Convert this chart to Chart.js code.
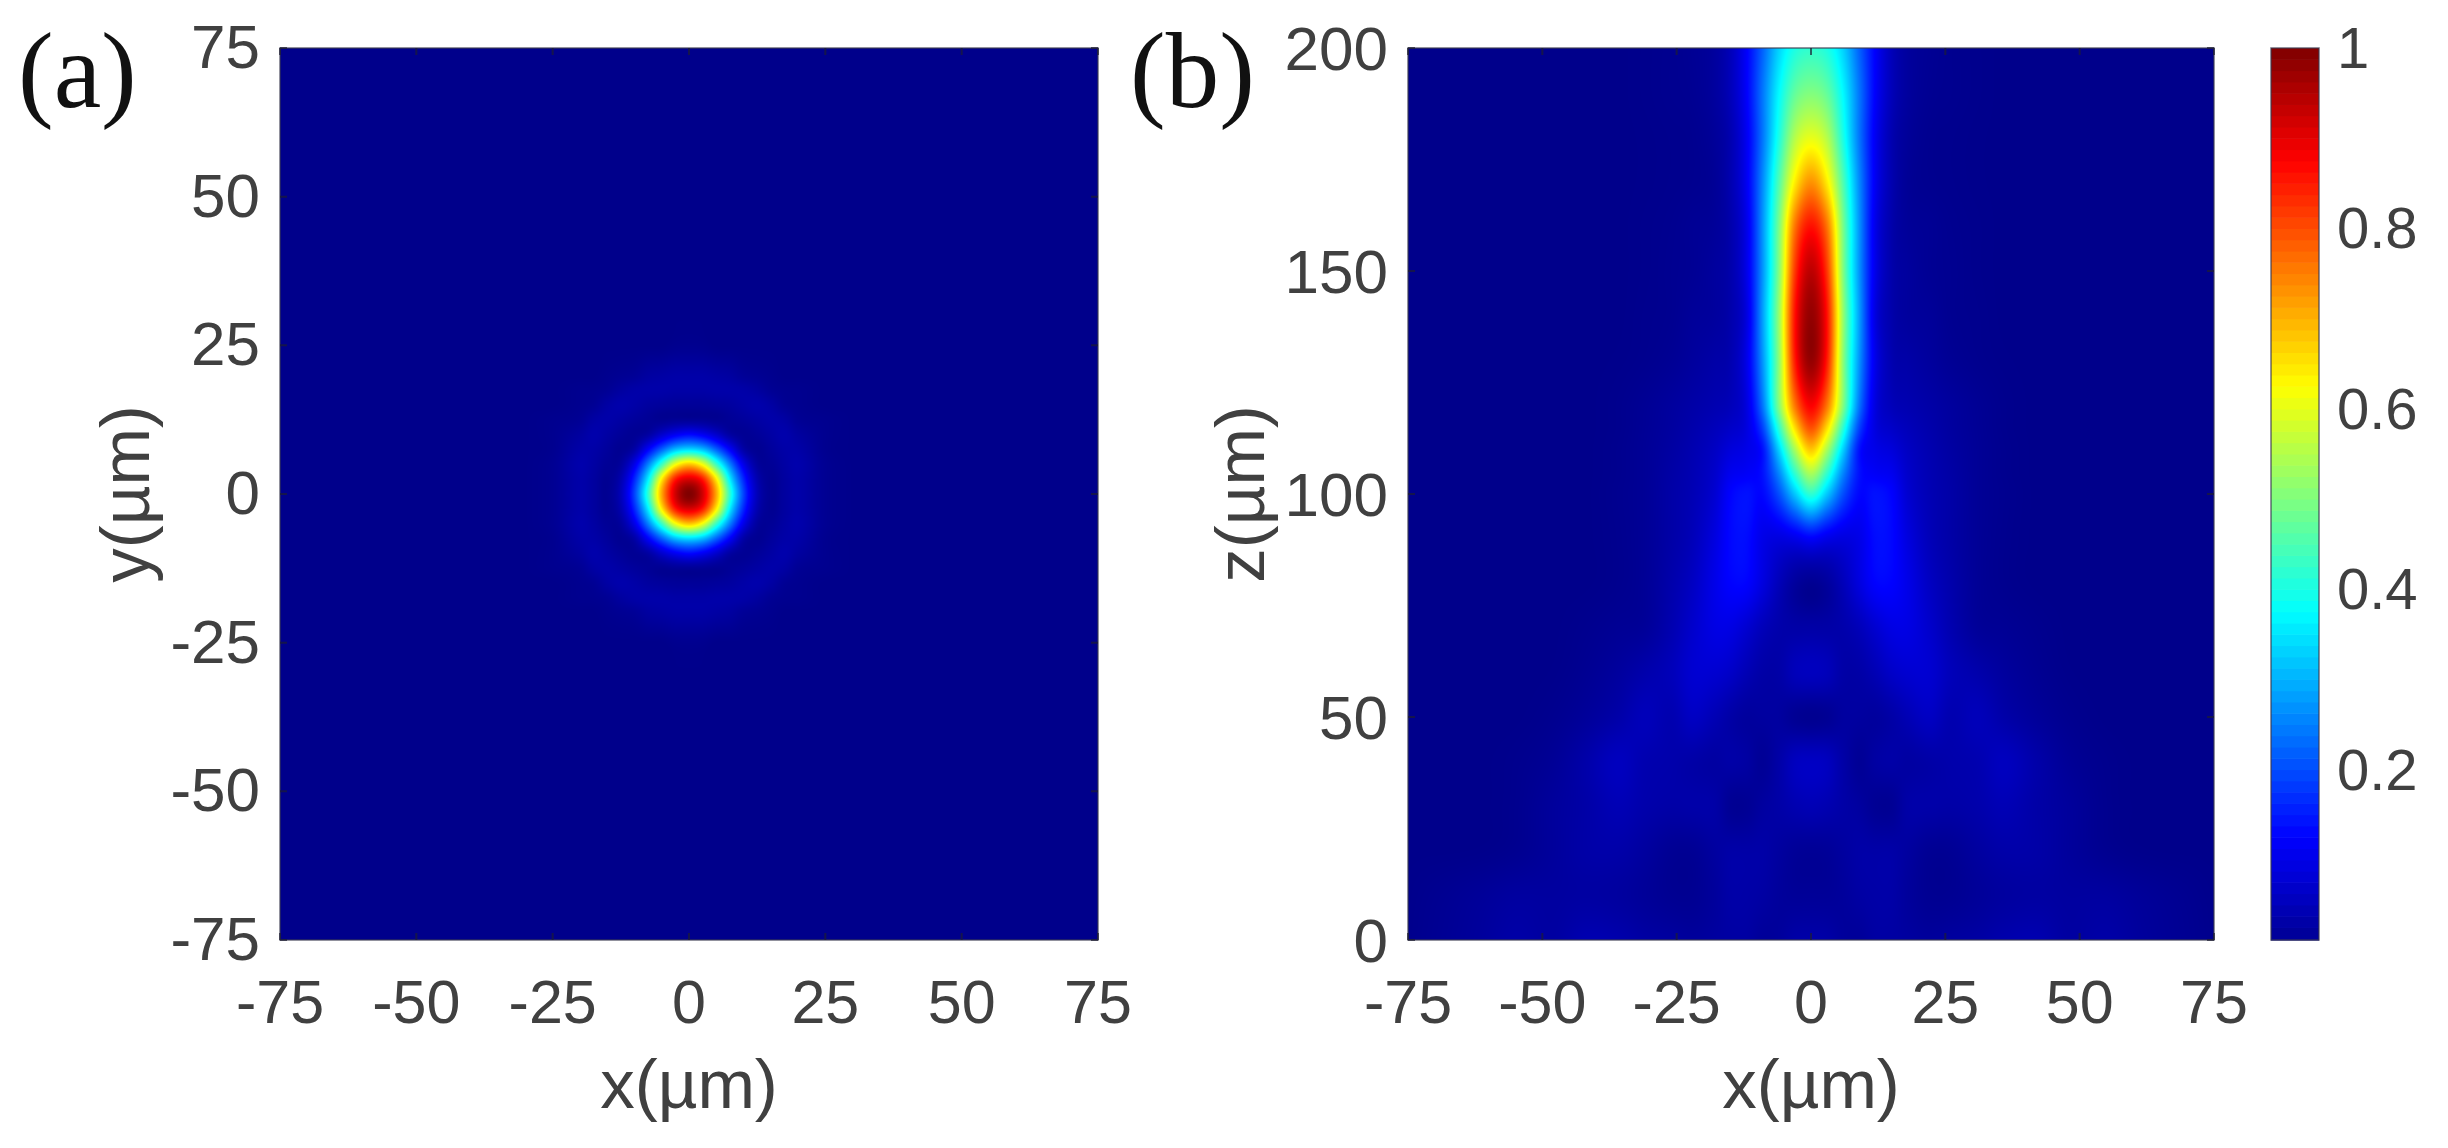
<!DOCTYPE html>
<html><head><meta charset="utf-8">
<script src="https://cdn.jsdelivr.net/npm/chart.js@4"></script>
<style>
html,body{margin:0;padding:0;background:#fff;width:2448px;height:1148px;overflow:hidden}
canvas{position:absolute;top:0;filter:blur(0.7px)}
</style></head><body>
<canvas id="a" width="1200" height="1148" style="left:0"></canvas>
<canvas id="b" width="1130" height="1148" style="left:1130px"></canvas>
<canvas id="c" width="188" height="1148" style="left:2260px"></canvas>
<script>
const xTicksA=[-75,-50,-25,0,25,50,75];
const yTicksA=[-75,-50,-25,0,25,50,75];
const xTicksB=[-75,-50,-25,0,25,50,75];
const zTicksB=[0,50,100,150,200];
const cbarTicks=[0.2,0.4,0.6,0.8,1];
const cbarLevels=[.011,.025,.0375,.05,.0625,.075,.0875,.1,.1125,.125,.1375,.15,.1625,.175,.1875,.2,.2125,.225,.2375,.25,.2625,.275,.2875,.3,.3125,.325,.3375,.35,.3625,.375,.3875,.4,.4125,.425,.4375,.45,.4625,.475,.4875,.5,.5125,.525,.5375,.55,.5625,.575,.5875,.6,.6125,.625,.6375,.65,.6625,.675,.6875,.7,.7125,.725,.7375,.75,.7625,.775,.7875,.8,.8125,.825,.8375,.85,.8625,.875,.8875,.9,.9125,.925,.9375,.95,.9625,.975,.9875,1];

const xGridA=[-30,-25,-20,-17.5,-15,-12.5,-10,-7.5,-5,-2.5,0,2.5,5,7.5,10,12.5,15,17.5,20,25,30];
const yGridA=[30,25,20,17.5,15,12.5,10,7.5,5,2.5,0,-2.5,-5,-7.5,-10,-12.5,-15,-17.5,-20,-25,-30];
const intensityA=[
[0,0,0,0,0,0,0,0,0,0,0,0,0,0,0,0,0,0,0,0,0],
[0,0,0,0,0,0,0,0,0,.004,.005,.004,0,0,0,0,0,0,0,0,0],
[0,0,0,0,.004,.008,.012,.022,.026,.03,.03,.03,.026,.022,.012,.008,.004,0,0,0,0],
[0,0,.004,.005,.01,.022,.03,.032,.032,.03,.03,.03,.032,.032,.03,.022,.01,.005,.004,0,0],
[0,0,.005,.01,.026,.035,.03,.022,.018,.015,.015,.015,.018,.022,.03,.035,.026,.01,.005,0,0],
[0,.004,.01,.026,.032,.026,.018,.012,.008,.012,.012,.012,.008,.012,.018,.026,.032,.026,.01,.004,0],
[0,.005,.022,.035,.026,.015,.01,.025,.07,.11,.13,.11,.07,.025,.01,.015,.026,.035,.022,.005,0],
[0,.005,.03,.03,.018,.008,.03,.12,.22,.31,.34,.31,.22,.12,.03,.008,.018,.03,.03,.005,0],
[0,.008,.035,.026,.012,.02,.10,.25,.43,.61,.68,.61,.43,.25,.10,.02,.012,.026,.035,.008,0],
[0,.008,.032,.022,.008,.04,.16,.36,.64,.85,.91,.85,.64,.36,.16,.04,.008,.022,.032,.008,0],
[0,.008,.032,.022,.008,.05,.19,.42,.71,.92,1,.92,.71,.42,.19,.05,.008,.022,.032,.008,0],
[0,.008,.032,.022,.008,.04,.16,.36,.64,.85,.91,.85,.64,.36,.16,.04,.008,.022,.032,.008,0],
[0,.008,.035,.026,.012,.02,.10,.25,.43,.61,.68,.61,.43,.25,.10,.02,.012,.026,.035,.008,0],
[0,.005,.03,.03,.018,.008,.03,.12,.22,.31,.34,.31,.22,.12,.03,.008,.018,.03,.03,.005,0],
[0,.005,.022,.035,.026,.015,.01,.025,.07,.11,.13,.11,.07,.025,.01,.015,.026,.035,.022,.005,0],
[0,.004,.01,.026,.032,.026,.018,.012,.008,.012,.012,.012,.008,.012,.018,.026,.032,.026,.01,.004,0],
[0,0,.005,.01,.026,.035,.03,.022,.018,.015,.015,.015,.018,.022,.03,.035,.026,.01,.005,0,0],
[0,0,.004,.005,.01,.022,.03,.032,.032,.03,.03,.03,.032,.032,.03,.022,.01,.005,.004,0,0],
[0,0,0,0,.004,.008,.012,.022,.026,.03,.03,.03,.026,.022,.012,.008,.004,0,0,0,0],
[0,0,0,0,0,0,0,0,0,.004,.005,.004,0,0,0,0,0,0,0,0,0],
[0,0,0,0,0,0,0,0,0,0,0,0,0,0,0,0,0,0,0,0,0]
];

const xGridB=[-75,-62,-55,-48,-42,-36,-31,-26,-22,-18,-15,-12,-9,-6,-3,0,3,6,9,12,15,18,22,26,31,36,42,48,55,62,75];
const zGridB=[200,190,180,170,160,150,140,130,120,115,110,105,100,90,80,70,60,50,40,30,20,10,0];
const intensityB=[
[0,0,0,0,0,0,.002,.005,.01,.02,.05,.12,.22,.33,.40,.42,.40,.33,.22,.12,.05,.02,.01,.005,.002,0,0,0,0,0,0],
[0,0,0,0,0,0,.002,.005,.008,.02,.05,.12,.24,.37,.47,.50,.47,.37,.24,.12,.05,.02,.008,.005,.002,0,0,0,0,0,0],
[0,0,0,0,0,0,.001,.003,.005,.015,.04,.11,.24,.40,.55,.60,.55,.40,.24,.11,.04,.015,.005,.003,.001,0,0,0,0,0,0],
[0,0,0,0,0,0,.001,.003,.005,.012,.04,.11,.26,.45,.64,.73,.64,.45,.26,.11,.04,.012,.005,.003,.001,0,0,0,0,0,0],
[0,0,0,0,0,0,.002,.005,.01,.015,.035,.10,.27,.49,.76,.86,.76,.49,.27,.10,.035,.015,.01,.005,.002,0,0,0,0,0,0],
[0,0,0,0,0,0,.002,.006,.01,.02,.035,.10,.27,.50,.82,.94,.82,.50,.27,.10,.035,.02,.01,.006,.002,0,0,0,0,0,0],
[0,0,0,0,0,0,.003,.006,.015,.02,.035,.09,.28,.52,.86,.98,.86,.52,.28,.09,.035,.02,.015,.006,.003,0,0,0,0,0,0],
[0,0,0,0,0,.001,.004,.01,.02,.03,.04,.10,.27,.51,.85,.98,.85,.51,.27,.10,.04,.03,.02,.01,.004,.001,0,0,0,0,0],
[0,0,0,0,0,.003,.01,.02,.03,.04,.05,.09,.24,.50,.76,.88,.76,.50,.24,.09,.05,.04,.03,.02,.01,.003,0,0,0,0,0],
[0,0,0,0,0,.003,.011,.022,.035,.05,.065,.09,.19,.42,.66,.80,.66,.42,.19,.09,.065,.05,.035,.022,.011,.003,0,0,0,0,0],
[0,0,0,0,0,.004,.012,.025,.04,.06,.085,.10,.14,.33,.54,.68,.54,.33,.14,.10,.085,.06,.04,.025,.012,.004,0,0,0,0,0],
[0,0,0,0,0,.004,.012,.028,.043,.068,.105,.115,.14,.26,.43,.55,.43,.26,.14,.115,.105,.068,.043,.028,.012,.004,0,0,0,0,0],
[0,0,0,0,0,.005,.012,.03,.045,.075,.125,.14,.13,.20,.32,.42,.32,.20,.13,.14,.125,.075,.045,.03,.012,.005,0,0,0,0,0],
[0,0,0,0,0,.004,.012,.03,.05,.09,.13,.135,.10,.09,.10,.12,.10,.09,.10,.135,.13,.09,.05,.03,.012,.004,0,0,0,0,0],
[0,0,0,0,0,.004,.012,.035,.06,.10,.125,.125,.09,.05,.02,.008,.02,.05,.09,.125,.125,.10,.06,.035,.012,.004,0,0,0,0,0],
[0,0,0,0,.004,.01,.015,.04,.07,.095,.095,.075,.05,.035,.03,.03,.03,.035,.05,.075,.095,.095,.07,.04,.015,.01,.004,0,0,0,0],
[0,0,0,.001,.008,.02,.035,.05,.075,.075,.065,.045,.03,.03,.05,.055,.05,.03,.03,.045,.065,.075,.075,.05,.035,.02,.008,.001,0,0,0],
[0,0,0,.005,.016,.032,.05,.04,.06,.045,.03,.02,.022,.022,.01,.006,.01,.022,.022,.02,.03,.045,.06,.04,.05,.032,.016,.005,0,0,0],
[0,0,.003,.012,.032,.055,.04,.035,.03,.025,.03,.025,.012,.03,.055,.06,.055,.03,.012,.025,.03,.025,.03,.035,.04,.055,.032,.012,.003,0,0],
[0,0,.004,.018,.03,.045,.035,.03,.032,.03,.01,.01,.022,.03,.04,.045,.04,.03,.022,.01,.01,.03,.032,.03,.035,.045,.03,.018,.004,0,0],
[0,.001,.006,.018,.03,.032,.022,.01,.01,.022,.03,.03,.03,.022,.014,.012,.014,.022,.03,.03,.03,.022,.01,.01,.022,.032,.03,.018,.006,.001,0],
[.001,.014,.022,.022,.025,.022,.015,.008,.008,.018,.03,.03,.026,.018,.014,.014,.014,.018,.026,.03,.03,.018,.008,.008,.015,.022,.025,.022,.022,.014,.001],
[.002,.018,.03,.024,.04,.036,.026,.022,.018,.022,.025,.025,.015,.018,.03,.032,.03,.018,.015,.025,.025,.022,.018,.022,.026,.036,.04,.024,.03,.018,.002]
];

const FONT="'Liberation Sans', Arial, sans-serif";
const INK='#404040';

function jet(v){
  v=Math.max(0,Math.min(1,v));
  let r=0,g=0,b=0;
  if(v<.125){b=.545+.455*v/.125;}
  else if(v<.375){g=(v-.125)/.25;b=1;}
  else if(v<.625){r=(v-.375)/.25;g=1;b=1-r;}
  else if(v<.875){r=1;g=1-(v-.625)/.25;}
  else{r=1-.5*(v-.875)/.125;}
  return [r*255,g*255,b*255];
}
function locate(g,t){
  if(t<=g[0])return {i:0,u:0};
  const n=g.length-1;
  if(t>=g[n])return {i:n-1,u:1};
  let i=0;while(g[i+1]<t)i++;
  return {i,u:(t-g[i])/(g[i+1]-g[i])};
}
function tangent(g,f,i){
  const n=g.length-1;
  if(i<=0)return (f[1]-f[0])/(g[1]-g[0]);
  if(i>=n)return (f[n]-f[n-1])/(g[n]-g[n-1]);
  return (f[i+1]-f[i-1])/(g[i+1]-g[i-1]);
}
function shade(g,f,p){
  const i=p.i,u=p.u,h=g[i+1]-g[i];
  const u2=u*u,u3=u2*u;
  return (2*u3-3*u2+1)*f[i]+(u3-2*u2+u)*h*tangent(g,f,i)+(-2*u3+3*u2)*f[i+1]+(u3-u2)*h*tangent(g,f,i+1);
}
function frame(chart,xT,yT){
  const c=chart.ctx,a=chart.chartArea,sx=chart.scales.x,sy=chart.scales.y;
  c.save();
  c.strokeStyle='rgba(60,60,80,.75)';c.lineWidth=1.5;
  c.strokeRect(a.left,a.top,a.right-a.left,a.bottom-a.top);
  c.strokeStyle='rgba(30,30,50,.7)';c.lineWidth=2;c.beginPath();
  xT.forEach(v=>{const p=sx.getPixelForValue(v);c.moveTo(p,a.bottom);c.lineTo(p,a.bottom-7);c.moveTo(p,a.top);c.lineTo(p,a.top+7);});
  yT.forEach(v=>{const p=sy.getPixelForValue(v);c.moveTo(a.left,p);c.lineTo(a.left+7,p);c.moveTo(a.right,p);c.lineTo(a.right-7,p);});
  c.stroke();c.restore();
}
function heatPlugin(xs,ys,rows,xT,yT,tag,tagX){
  const yAsc=ys.slice().reverse(), rowsAsc=rows.slice().reverse();
  return {id:'heat'+tag,
    beforeDatasetsDraw(chart){
      const a=chart.chartArea,sx=chart.scales.x,sy=chart.scales.y;
      const L=Math.round(a.left),T=Math.round(a.top),W=Math.round(a.right-a.left),H=Math.round(a.bottom-a.top);
      const off=document.createElement('canvas');off.width=W;off.height=H;
      const oc=off.getContext('2d'),img=oc.createImageData(W,H);
      const ly=[];for(let j=0;j<H;j++)ly.push(locate(yAsc,sy.getValueForPixel(T+j+.5)));
      for(let i=0;i<W;i++){
        const px=locate(xs,sx.getValueForPixel(L+i+.5));
        const col=rowsAsc.map(r=>shade(xs,r,px));
        for(let j=0;j<H;j++){
          const c=jet(shade(yAsc,col,ly[j])),k=(j*W+i)*4;
          img.data[k]=c[0];img.data[k+1]=c[1];img.data[k+2]=c[2];img.data[k+3]=255;
        }
      }
      oc.putImageData(img,0,0);
      chart.ctx.drawImage(off,L,T);
    },
    afterDatasetsDraw(chart){
      frame(chart,xT,yT);
      const c=chart.ctx;c.save();c.fillStyle='#111';c.font="107px 'Liberation Serif', serif";
      c.textBaseline='alphabetic';c.textAlign='left';c.fillText(tag,tagX,107);c.restore();
    }};
}
function cellPoints(xs,ys,rows){
  const pts=[];ys.forEach((y,j)=>xs.forEach((x,i)=>pts.push({x,y,v:rows[j][i]})));return pts;
}
function noPad(s){s.paddingLeft=s.paddingRight=s.paddingTop=s.paddingBottom=0;}
function axis(ticks,min,max,extra){
  return Object.assign({type:'linear',min,max,
    afterBuildTicks(s){s.ticks=ticks.map(value=>({value}));},
    grid:{display:false,drawTicks:false},border:{display:false}},extra);
}
function heatChart(id,xs,ys,rows,xT,yT,ymin,ymax,opt){
  new Chart(document.getElementById(id),{
    type:'scatter',
    data:{datasets:[{label:opt.tag,data:cellPoints(xs,ys,rows),pointRadius:0,pointHoverRadius:0}]},
    plugins:[heatPlugin(xs,ys,rows,xT,yT,opt.tag,opt.tagX)],
    options:{responsive:false,animation:false,events:[],
      layout:{padding:{left:0,top:48,right:opt.right,bottom:0}},
      plugins:{legend:{display:false},tooltip:{enabled:false}},
      scales:{
        x:axis(xT,-75,75,{
          afterFit(s){s.height=208;noPad(s);},
          ticks:{autoSkip:false,maxRotation:0,minRotation:0,padding:30,color:INK,font:{family:FONT,size:61}},
          title:{display:true,text:'x(µm)',color:INK,font:{family:FONT,size:69},padding:{top:0,bottom:18}}}),
        y:axis(yT,ymin,ymax,{
          afterFit(s){s.width=opt.left;noPad(s);},
          ticks:{autoSkip:false,padding:20,labelOffset:opt.labelOffset,color:INK,font:{family:FONT,size:62}},
          title:{display:true,text:opt.ylab,color:INK,font:{family:FONT,size:69},padding:{top:opt.titlePad,bottom:0}}})
      }}
  });
}
heatChart('a',xGridA,yGridA,intensityA,xTicksA,yTicksA,-75,75,{tag:'(a)',tagX:18,left:280,right:102,ylab:'y(µm)',titlePad:89,labelOffset:3});
heatChart('b',xGridB,zGridB,intensityB,xTicksB,zTicksB,0,200,{tag:'(b)',tagX:0,left:278,right:46,ylab:'z(µm)',titlePad:74,labelOffset:5});

new Chart(document.getElementById('c'),{
  type:'scatter',
  data:{datasets:[{label:'colour scale',data:cbarLevels.map(v=>({x:0,y:v})),pointRadius:0,pointHoverRadius:0}]},
  plugins:[{id:'cbar',
    beforeDatasetsDraw(chart){
      const c=chart.ctx,a=chart.chartArea,sy=chart.scales.y;
      for(let i=0;i<cbarLevels.length-1;i++){
        const lo=cbarLevels[i],hi=cbarLevels[i+1],k=jet((lo+hi)/2);
        const y1=sy.getPixelForValue(lo),y2=sy.getPixelForValue(hi);
        c.fillStyle=`rgb(${k[0]|0},${k[1]|0},${k[2]|0})`;
        c.fillRect(a.left,y2,a.right-a.left,y1-y2+.6);
      }
    },
    afterDatasetsDraw(chart){frame(chart,[],[]);}
  }],
  options:{responsive:false,animation:false,events:[],
    layout:{padding:{left:11,top:48,right:0,bottom:208}},
    plugins:{legend:{display:false},tooltip:{enabled:false}},
    scales:{
      x:{type:'linear',min:0,max:1,display:false},
      y:axis(cbarTicks,.011,1,{position:'right',
        afterFit(s){s.width=129;noPad(s);},
        ticks:{autoSkip:false,padding:18,labelOffset:4,color:INK,font:{family:FONT,size:58},callback:v=>v===1?'1':v.toFixed(1)}})
    }}
});
</script></body></html>
